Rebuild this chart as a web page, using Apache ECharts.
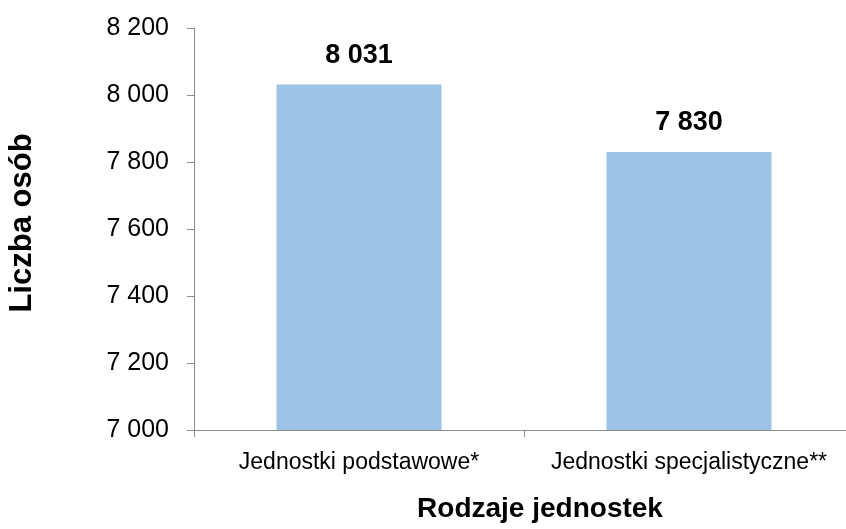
<!DOCTYPE html>
<html><head><meta charset="utf-8">
<script src="https://cdn.jsdelivr.net/npm/echarts@6/dist/echarts.min.js"></script>
<style>html,body{margin:0;padding:0;background:#fff}#c{width:846px;height:529px}</style>
</head><body><div id="c"></div>
<script>
const categories = ['Jednostki podstawowe*', 'Jednostki specjalistyczne**'];
const values = [8031, 7830];
const yTicks = [7000, 7200, 7400, 7600, 7800, 8000, 8200];
const xTitle = 'Rodzaje jednostek';
const yTitle = 'Liczba osób';

function fmt(v) {
  const s = String(Math.round(v));
  return s.replace(/\B(?=(\d{3})+(?!\d))/g, ' ');
}

const FONT = 'Liberation Sans, Arial, sans-serif';
const chart = echarts.init(document.getElementById('c'), null, {renderer: 'canvas'});
chart.setOption({
  animation: false,
  backgroundColor: '#ffffff',
  grid: {left: 194, width: 660, top: 28, bottom: 99, containLabel: false, outerBoundsMode: 'none'},
  xAxis: {
    type: 'category',
    data: categories,
    axisLine: {lineStyle: {color: '#8c8c8c', width: 1}},
    axisTick: {show: true, length: 7, lineStyle: {color: '#8c8c8c'}},
    axisLabel: {color: '#000', fontFamily: FONT, fontSize: 23, margin: 21, interval: 0, hideOverlap: false},
    name: xTitle,
    nameLocation: 'middle',
    nameGap: 65,
    nameTextStyle: {color: '#000', fontFamily: FONT, fontSize: 28, fontWeight: 'bold', padding: [0, 0, 0, 32]}
  },
  yAxis: {
    type: 'value',
    min: yTicks[0],
    max: yTicks[yTicks.length - 1],
    interval: yTicks[1] - yTicks[0],
    axisLine: {show: true, lineStyle: {color: '#8c8c8c', width: 1}},
    axisTick: {show: true, length: 7, lineStyle: {color: '#8c8c8c'}},
    splitLine: {show: false},
    axisLabel: {color: '#000', fontFamily: FONT, fontSize: 25, margin: 25, formatter: fmt},
    name: yTitle,
    nameLocation: 'middle',
    nameRotate: 90,
    nameGap: 156,
    nameTextStyle: {color: '#000', fontFamily: FONT, fontSize: 31, fontWeight: 'bold', padding: [0, 0, 0, 12]}
  },
  series: [{
    type: 'bar',
    data: values,
    barWidth: '50%',
    itemStyle: {color: '#9DC3E6'},
    label: {
      show: true, position: 'top', distance: 16,
      color: '#000', fontFamily: FONT, fontSize: 27, fontWeight: 'bold',
      formatter: p => fmt(p.value)
    }
  }]
});
</script></body></html>
